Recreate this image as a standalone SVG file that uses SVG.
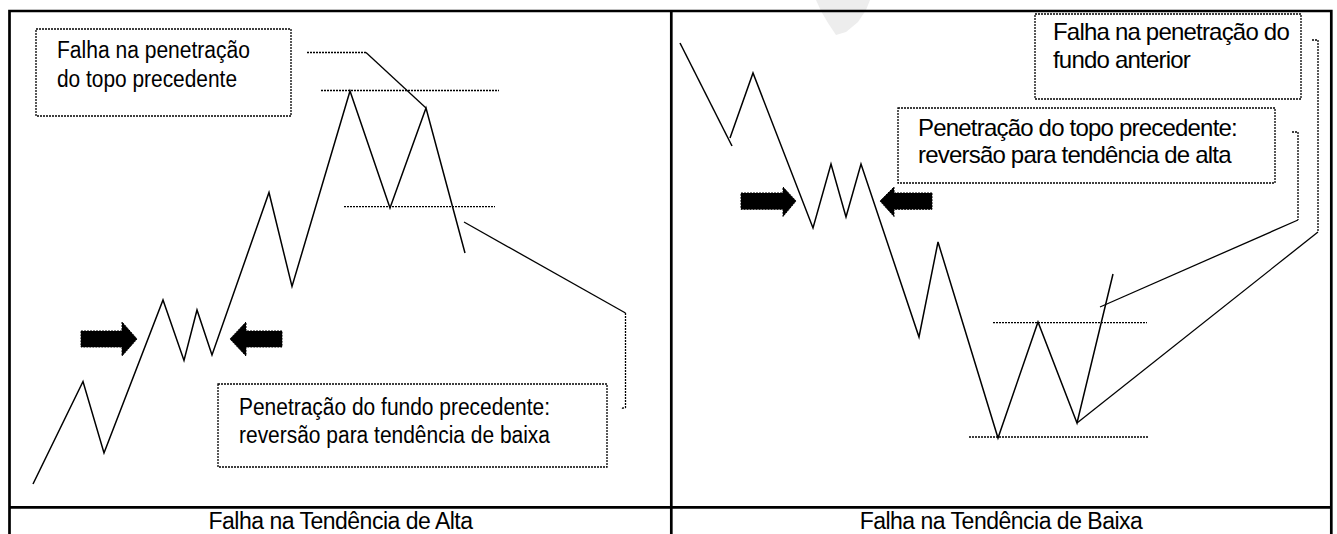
<svg xmlns="http://www.w3.org/2000/svg" width="1337" height="534" viewBox="0 0 1337 534">
<style>
.frame{fill:none;stroke:#000;stroke-width:2.7}
.zig{fill:none;stroke:#000;stroke-width:1.5;stroke-linejoin:miter}
.dot{fill:none;stroke:#000;stroke-width:1.3;stroke-dasharray:2,1}
.lead{fill:none;stroke:#000;stroke-width:1.3}
.box{fill:#fff;stroke:#000;stroke-width:1.3;stroke-dasharray:2,1}
.arrow{fill:#000;stroke:#000;stroke-width:1;stroke-dasharray:2,1}
.t{font-family:"Liberation Sans",Arial,sans-serif;font-size:23px;fill:#000}
.tr{font-family:"Liberation Sans",Arial,sans-serif;font-size:24px;letter-spacing:-0.8px;fill:#000}
.cap{font-family:"Liberation Sans",Arial,sans-serif;font-size:23px;letter-spacing:-0.5px;fill:#000;text-anchor:middle}
</style>
<rect width="1337" height="534" fill="#fff"/>
<polygon points="816,0 870,0 866,10 858,22 846,32 836,35 828,23 821,11" fill="#ededed"/>
<g id="frame">
<polyline class="frame" points="9.5,534 9.5,11 1331.3,11 1331.3,534"/>
<line class="frame" x1="671.3" y1="11" x2="671.3" y2="534"/>
<line class="frame" x1="9.5" y1="507.3" x2="1331.3" y2="507.3"/>
</g>
<g id="charts">
<polyline class="zig" points="33,484 83,381.5 104,453 163,300 184,360.5 197,310 212,355 269,192.5 292,286.5 350,91 390,208 426,108 465,253"/>
<line class="zig" x1="680" y1="43" x2="732" y2="146"/>
<polyline class="zig" points="730,138 753,73 813,228 831,164 846,217 861,164 919,337 938,242 998,438 1038,322 1077,423 1113,274"/>
</g>
<g id="levels">
<line class="dot" x1="321" y1="90.5" x2="499" y2="90.5"/>
<line class="dot" x1="344" y1="206.7" x2="495" y2="206.7"/>
<line class="dot" x1="993" y1="322.7" x2="1147" y2="322.7"/>
<line class="dot" x1="969" y1="437" x2="1149" y2="437"/>
</g>
<g id="connectors">
<line class="dot" x1="307" y1="52.5" x2="366" y2="52.5"/>
<line class="lead" x1="366" y1="52.5" x2="426" y2="108"/>
<line class="lead" x1="464" y1="222" x2="625.5" y2="313"/>
<polyline class="dot" points="625.5,313 625.5,407.5 621,408.5"/>
<polyline class="dot" points="1312,40 1318,40 1318,232"/>
<line class="lead" x1="1318" y1="232" x2="1077" y2="423"/>
<polyline class="dot" points="1292,132 1298,132 1298,220"/>
<line class="lead" x1="1298" y1="220" x2="1100" y2="307"/>
</g>
<g id="arrows">
<polygon class="arrow" points="81,331 122,331 122,322 137,339 122,356 122,347 81,347"/>
<polygon class="arrow" points="282,331 246,331 246,322 230,339 246,356 246,347 282,347"/>
<polygon class="arrow" points="741,193 783,193 783,187 796,201 783,216.5 783,209.3 741,209.3"/>
<polygon class="arrow" points="932,193 894,193 894,187 880,201 894,216.5 894,209.3 932,209.3"/>
</g>
<g id="box1">
<rect class="box" x="36" y="29" width="255" height="87"/>
<text class="t" x="57" y="58" textLength="193" lengthAdjust="spacingAndGlyphs">Falha na penetração</text>
<text class="t" x="57" y="87" textLength="180" lengthAdjust="spacingAndGlyphs">do topo precedente</text>
</g>
<g id="box2">
<rect class="box" x="218" y="384" width="389" height="83"/>
<text class="t" x="239" y="415" textLength="311" lengthAdjust="spacingAndGlyphs">Penetração do fundo precedente:</text>
<text class="t" x="239" y="443" textLength="311" lengthAdjust="spacingAndGlyphs">reversão para tendência de baixa</text>
</g>
<g id="box3">
<rect class="box" x="1035" y="14" width="266" height="85"/>
<text class="tr" x="1053" y="40">Falha na penetração do</text>
<text class="tr" x="1053" y="68">fundo anterior</text>
</g>
<g id="box4">
<rect class="box" x="898" y="108" width="377" height="75"/>
<text class="tr" x="918" y="136">Penetração do topo precedente:</text>
<text class="tr" x="918" y="163">reversão para tendência de alta</text>
</g>
<g id="captions">
<text class="cap" x="340.5" y="529">Falha na Tendência de Alta</text>
<text class="cap" x="1001" y="529">Falha na Tendência de Baixa</text>
</g>
</svg>
